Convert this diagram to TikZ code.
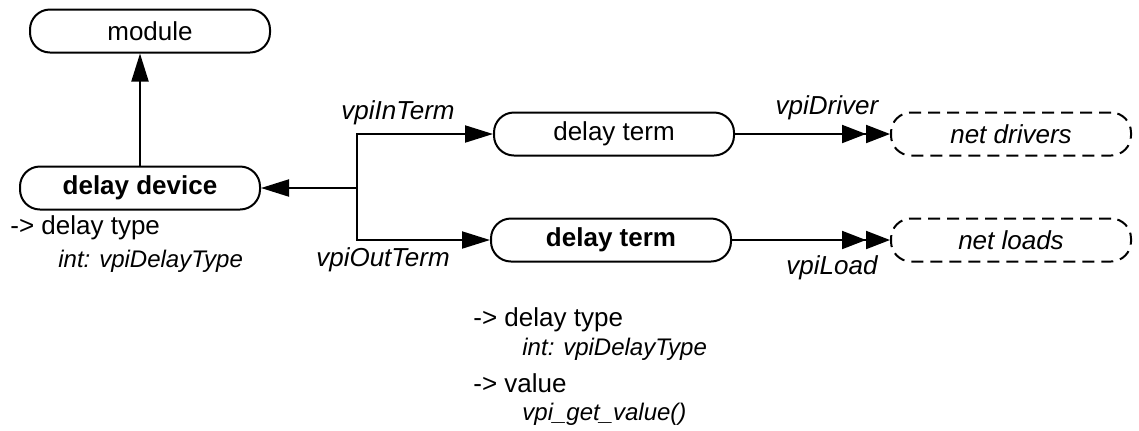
\documentclass[tikz,border=0pt]{standalone}
\usepackage{fontspec}
\setmainfont{Liberation Sans}
\usetikzlibrary{
  arrows.meta,
  positioning,
  calc,
}
\definecolor{linecol}{RGB}{0,0,0}
\tikzset{
  objbox/.style={
    rectangle, draw=linecol, line width=1pt, rounded corners=10pt,
    minimum width=120pt, minimum height=21.5pt, inner sep=0pt,
    font=\fontsize{13}{15}\selectfont
  },
  boldbox/.style={objbox, font=\fontsize{13}{15}\selectfont\bfseries},
  netbox/.style={objbox, dash pattern=on 6pt off 3.5pt,
    font=\fontsize{13}{15}\selectfont\itshape},
  relarrow/.style={line width=1pt, linecol,
    -{Triangle[length=14pt,width=8.5pt]}},
  multiarrow/.style={line width=1pt, linecol,
    -{Triangle[length=12pt,width=9pt]Triangle[length=12pt,width=9pt]}},
  rellabel/.style={font=\fontsize{13}{15}\selectfont\itshape, inner sep=0pt},
  proplabel/.style={font=\fontsize{13}{15}\selectfont, anchor=west, inner sep=0pt},
  propsub/.style={font=\fontsize{12}{14}\selectfont\itshape, anchor=west, inner sep=0pt},
}

\begin{document}
\begin{tikzpicture}[x=0.5pt, y=-0.5pt]
  \useasboundingbox (0,0) rectangle (1139,430);

  % ── Nodes ──
  \node[objbox]  (module)  at (150, 31)  {module};
  \node[boldbox] (device)  at (140, 188) {delay device};
  \node[objbox]  (interm)  at (614, 134) {delay term};
  \node[boldbox] (outterm) at (611, 240) {delay term};
  \node[netbox]  (drivers) at (1011, 134) {net drivers};
  \node[netbox]  (loads)   at (1011, 240) {net loads};
  \coordinate (junc) at (357, 188);

  % ── Edges ──
  \draw[relarrow] (device.north) -- (device.north |- module.south);
  \draw[relarrow] (junc) -- (device.east);
  \draw[relarrow] (junc) |- (interm.west);
  \draw[relarrow] (junc) |- (outterm.west);
  \draw[multiarrow] (interm.east) -- (drivers.west);
  \draw[multiarrow] (outterm.east) -- (loads.west);

  % ── Edge labels ──
  \node[rellabel] (lblin)   at (398, 113) {vpiInTerm};
  \node[rellabel] (lblout)  at (383, 260) {vpiOutTerm};
  \node[rellabel] (lbldrv)  at (827, 108) {vpiDriver};
  \node[rellabel] (lblload) at (832, 268) {vpiLoad};

  % ── Properties ──
  \node[proplabel] (devtype)  at (10, 228)  {-> delay type};
  \node[propsub]   (devint)   at (58, 261)  {int: vpiDelayType};
  \node[proplabel] (termtype) at (473, 320) {-> delay type};
  \node[propsub]   (termint)  at (522, 349) {int: vpiDelayType};
  \node[proplabel] (termval)  at (473, 383) {-> value};
  \node[propsub]   (termget)  at (522, 414) {vpi\_get\_value()};

\end{tikzpicture}
\end{document}
